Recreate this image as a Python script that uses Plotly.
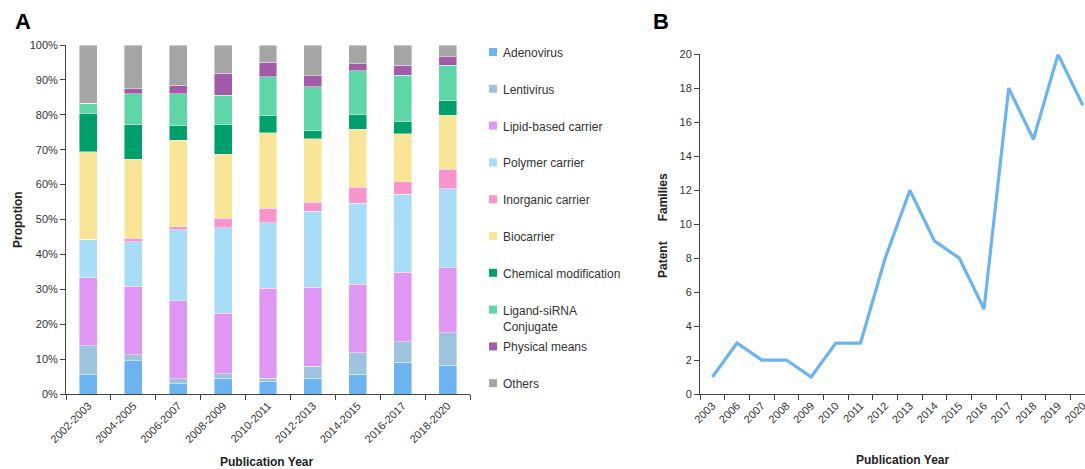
import plotly.graph_objects as go

periods = ["2002-2003", "2004-2005", "2006-2007", "2008-2009", "2010-2011",
           "2012-2013", "2014-2015", "2016-2017", "2018-2020"]

series_names = ["Adenovirus", "Lentivirus", "Lipid-based carrier", "Polymer carrier",
                "Inorganic carrier", "Biocarrier", "Chemical modification",
                "Ligand-siRNA<br>Conjugate", "Physical means", "Others"]

adenovirus = [5.5, 9.6, 3.0, 4.5, 3.5, 4.5, 5.7, 9.1, 8.3]
lentivirus = [8.3, 1.7, 1.4, 1.3, 1.0, 3.4, 6.1, 5.9, 9.3]
lipid = [19.5, 19.6, 22.3, 17.3, 25.8, 22.7, 19.6, 19.9, 18.6]
polymer = [11.1, 12.7, 20.3, 24.6, 18.8, 21.7, 23.3, 22.4, 22.6]
inorganic = [0.0, 1.0, 0.9, 2.7, 4.1, 2.7, 4.5, 3.5, 5.6]
biocarrier = [25.0, 22.6, 24.8, 18.3, 21.7, 18.1, 16.6, 13.8, 15.5]
chemical = [11.1, 10.1, 4.2, 8.5, 4.9, 2.4, 4.4, 3.6, 4.3]
ligand = [2.8, 8.8, 9.1, 8.4, 11.1, 12.5, 12.4, 13.2, 10.0]
physical = [0.0, 1.3, 2.5, 6.3, 4.2, 3.2, 2.1, 2.8, 2.4]
others = [16.7, 12.6, 11.5, 8.1, 4.9, 8.8, 5.3, 5.8, 3.4]

series_values = [adenovirus, lentivirus, lipid, polymer, inorganic,
                 biocarrier, chemical, ligand, physical, others]

colors = ["#6DB3EF", "#9DC3DD", "#DE98F3", "#A9DCF6", "#F994CC",
          "#F9E597", "#009F6C", "#5FD6A7", "#A25BA6", "#A5A5A5"]

years = ["2003", "2006", "2007", "2008", "2009", "2010", "2011", "2012",
         "2013", "2014", "2015", "2016", "2017", "2018", "2019", "2020"]
patent_families = [1, 3, 2, 2, 1, 3, 3, 8, 12, 9, 8, 5, 18, 15, 20, 17]

W, H = 1085, 469


def px(x):
    return x / W


def py(y):
    return (H - y) / H


fig = go.Figure()

for name, vals, col in zip(series_names, series_values, colors):
    fig.add_trace(go.Bar(
        x=periods, y=vals, name=name.replace("<br>", " "),
        marker=dict(color=col, line=dict(color="rgba(255,255,255,0.7)", width=0.6)),
        xaxis="x", yaxis="y", showlegend=False,
    ))

fig.add_trace(go.Scatter(
    x=years, y=patent_families, mode="lines",
    line=dict(color="#6CB4EE", width=3.2),
    xaxis="x2", yaxis="y2", showlegend=False,
))

axis_font = dict(family="Liberation Sans, Arial, sans-serif", size=11, color="#333333")
common_axis = dict(showline=True, linecolor="#444444", linewidth=1, ticks="outside",
                   ticklen=5, tickcolor="#444444", showgrid=False, zeroline=False,
                   tickfont=axis_font, automargin=False)

fig.update_layout(
    width=W, height=H,
    margin=dict(l=0, r=0, t=0, b=0),
    paper_bgcolor="white", plot_bgcolor="white",
    barmode="stack", bargap=0.6,
    font=dict(family="Liberation Sans, Arial, sans-serif", color="#333333"),
    xaxis=dict(domain=[px(66), px(470)], type="category", tickson="boundaries",
               tickangle=-45, range=[-0.5, 8.5], **common_axis),
    yaxis=dict(domain=[py(394), py(45)], range=[0, 100], tickvals=list(range(0, 101, 10)),
               ticktext=[f"{v}%" for v in range(0, 101, 10)], **common_axis),
    xaxis2=dict(domain=[px(700), 1.0], type="category", tickson="boundaries",
                tickangle=-45, range=[-0.5, 15.09], anchor="y2", **common_axis),
    yaxis2=dict(domain=[py(394), py(54.3)], range=[0, 20], dtick=2, anchor="x2",
                **common_axis),
)

annotations = [
    dict(text="<b>A</b>", x=px(23), y=py(22), font=dict(size=22, color="#000")),
    dict(text="<b>B</b>", x=px(661), y=py(22), font=dict(size=22, color="#000")),
    dict(text="<b>Propotion</b>", x=px(18), y=py(220), textangle=-90,
         font=dict(size=12, color="#222")),
    dict(text="<b>Publication Year</b>", x=px(266), y=py(462), font=dict(size=12, color="#222")),
    dict(text="<b>Publication Year</b>", x=px(902), y=py(460), font=dict(size=12, color="#222")),
    dict(text="<b>Patent" + "\u00a0" * 6 + "Families</b>", x=px(663), y=py(226),
         textangle=-90, font=dict(size=12, color="#222")),
]
for a in annotations:
    a.update(xref="paper", yref="paper", showarrow=False, xanchor="center", yanchor="middle")

shapes = []
for i, (name, col) in enumerate(zip(series_names, colors)):
    cy = 52 + 36.8 * i
    shapes.append(dict(type="rect", xref="paper", yref="paper",
                       x0=px(489), x1=px(497), y0=py(cy - 4), y1=py(cy + 4),
                       fillcolor=col, line=dict(width=0)))
    annotations.append(dict(text=name, xref="paper", yref="paper", x=px(501), y=py(cy - 8),
                            xanchor="left", yanchor="top", align="left", showarrow=False,
                            font=dict(size=12, color="#333333")))

fig.update_layout(annotations=annotations, shapes=shapes)

fig.write_html("out.html", config={"displayModeBar": False},
               post_script="document.body.style.margin='0';document.body.style.overflow='hidden';")
